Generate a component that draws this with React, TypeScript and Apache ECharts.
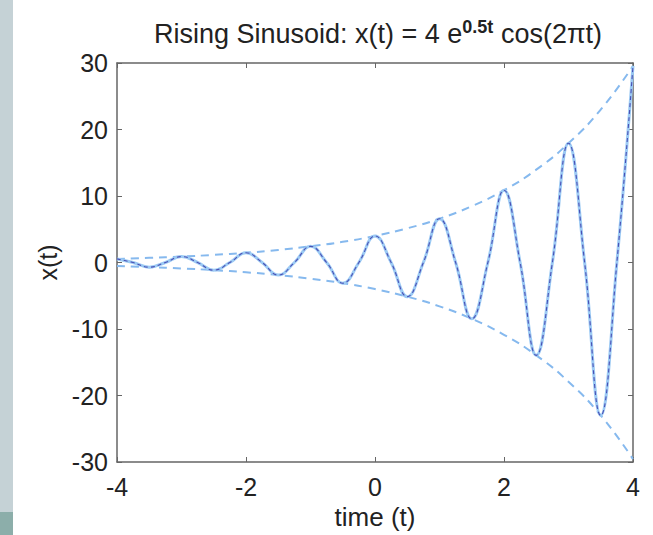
import React, { useEffect, useRef } from "react";
import * as echarts from "echarts";

// Sinusoid read at peaks, zero crossings and troughs (quarter periods)
const sinT = [
  -4, -3.75, -3.5, -3.25, -3, -2.75, -2.5, -2.25, -2, -1.75, -1.5, -1.25, -1, -0.75, -0.5, -0.25,
  0, 0.25, 0.5, 0.75, 1, 1.25, 1.5, 1.75, 2, 2.25, 2.5, 2.75, 3, 3.25, 3.5, 3.75, 4,
];
const sinX = [
  0.54, 0, -0.7, 0, 0.89, 0, -1.15, 0, 1.47, 0, -1.89, 0, 2.43, 0, -3.11, 0,
  4, 0, -5.14, 0, 6.59, 0, -8.47, 0, 10.87, 0, -13.96, 0, 17.93, 0, -23.0, 0, 29.56,
];

// Envelope read at integer and half-integer times
const envT = [-4, -3.5, -3, -2.5, -2, -1.5, -1, -0.5, 0, 0.5, 1, 1.5, 2, 2.5, 3, 3.5, 4];
const envUpper = [0.54, 0.7, 0.89, 1.15, 1.47, 1.89, 2.43, 3.11, 4, 5.14, 6.59, 8.47, 10.87, 13.96, 17.93, 23.0, 29.56];
const envLower = [-0.54, -0.7, -0.89, -1.15, -1.47, -1.89, -2.43, -3.11, -4, -5.14, -6.59, -8.47, -10.87, -13.96, -17.93, -23.0, -29.56];

const xTicks = { min: -4, max: 4, interval: 2 };
const yTicks = { min: -30, max: 30, interval: 10 };

const FONT = "'Liberation Sans', Arial, Helvetica, sans-serif";

export default function App() {
  const ref = useRef<HTMLDivElement>(null);

  useEffect(() => {
    if (!ref.current) return;
    const chart = echarts.init(ref.current, undefined, { renderer: "svg" });
    const sinData = sinT.map((t, i) => [t, sinX[i]]);
    const upData = envT.map((t, i) => [t, envUpper[i]]);
    const loData = envT.map((t, i) => [t, envLower[i]]);

    const axisLine = { show: true, onZero: false, lineStyle: { color: "#666", width: 1.5 } };
    const tick = { show: true, inside: true, length: 5, lineStyle: { color: "#666", width: 1 } };

    chart.setOption({
      animation: false,
      backgroundColor: "#ffffff",
      title: {
        text: "Rising Sinusoid: x(t) = 4 e{sup|0.5t} cos(2πt)",
        left: 373,
        top: 13,
        textAlign: "center",
        textStyle: {
          fontFamily: FONT,
          fontSize: 27,
          fontWeight: "normal",
          color: "#222",
          rich: {
            sup: {
              fontFamily: FONT,
              fontSize: 18,
              fontWeight: "bold",
              color: "#222",
              padding: [0, 0, 13, 0],
            },
          },
        },
      },
      graphic: [
        { type: "rect", shape: { x: 0, y: 0, width: 13, height: 512 }, style: { fill: "#c5d2d6" }, silent: true },
        { type: "rect", shape: { x: 0, y: 512, width: 13, height: 23 }, style: { fill: "#8caeaa" }, silent: true },
      ],
      grid: { left: 117, right: 20, top: 63, bottom: 72, containLabel: false },
      xAxis: [
        {
          type: "value",
          ...xTicks,
          position: "bottom",
          name: "time (t)",
          nameLocation: "middle",
          nameGap: 42,
          nameTextStyle: { fontFamily: FONT, fontSize: 26, color: "#222" },
          axisLine,
          axisTick: tick,
          axisLabel: { fontFamily: FONT, fontSize: 25, color: "#222", margin: 12 },
          splitLine: { show: false },
        },
        {
          type: "value",
          ...xTicks,
          position: "top",
          axisLine,
          axisTick: tick,
          axisLabel: { show: false },
          splitLine: { show: false },
        },
      ],
      yAxis: [
        {
          type: "value",
          ...yTicks,
          position: "left",
          name: "x(t)",
          nameLocation: "middle",
          nameGap: 52,
          nameRotate: 90,
          nameTextStyle: { fontFamily: FONT, fontSize: 25, color: "#222" },
          axisLine,
          axisTick: tick,
          axisLabel: { fontFamily: FONT, fontSize: 25, color: "#222", margin: 9 },
          splitLine: { show: false },
        },
        {
          type: "value",
          ...yTicks,
          position: "right",
          axisLine,
          axisTick: tick,
          axisLabel: { show: false },
          splitLine: { show: false },
        },
      ],
      series: [
        {
          type: "line",
          data: upData,
          smooth: true,
          showSymbol: false,
          lineStyle: { color: "#86b9ee", width: 2, type: [8, 6] },
          z: 2,
        },
        {
          type: "line",
          data: loData,
          smooth: true,
          showSymbol: false,
          lineStyle: { color: "#86b9ee", width: 2, type: [8, 6] },
          z: 2,
        },
        {
          type: "line",
          data: sinData,
          smooth: 0.45,
          showSymbol: false,
          lineStyle: { color: "#9ccaf4", width: 3 },
          z: 3,
        },
        {
          type: "line",
          data: sinData,
          smooth: 0.45,
          showSymbol: false,
          lineStyle: { color: "#4a4fb4", width: 1.1, type: [4, 3] },
          z: 4,
        },
      ],
    });
    return () => chart.dispose();
  }, []);

  return (
    <div
      ref={ref}
      style={{ position: "absolute", left: 0, top: 0, width: 653, height: 535 }}
    />
  );
}
